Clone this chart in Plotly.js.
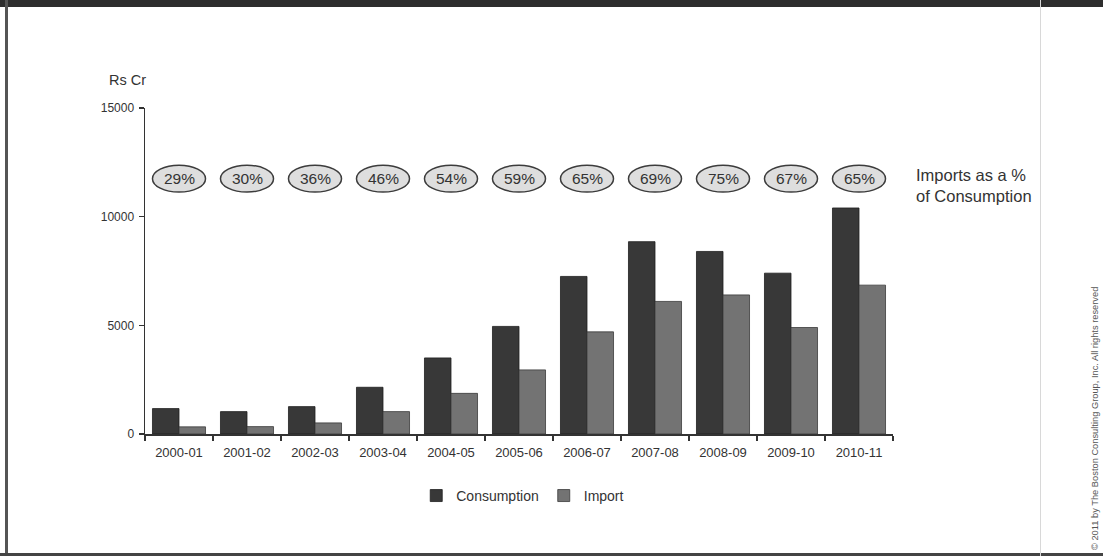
<!DOCTYPE html>
<html>
<head>
<meta charset="utf-8">
<script src="https://cdn.plot.ly/plotly-3.0.1.min.js"></script>
<style>
  html, body { margin: 0; padding: 0; background: #fff; }
  #wrap { position: relative; width: 1103px; height: 556px; overflow: hidden; }
  #chart { position: absolute; left: 0; top: 0; width: 1103px; height: 556px; }
  .frame-top { position: absolute; left: 0; top: 0; width: 1103px; height: 7px; background: #2e2e2e; }
  .frame-left { position: absolute; left: 5px; top: 0; width: 3px; height: 556px; background: #555; }
  .frame-bottom { position: absolute; left: 0; top: 553px; width: 1103px; height: 3px; background: #444; }
  .frame-right { position: absolute; left: 1040px; top: 0; width: 1px; height: 556px; background: #d8d8d8; }
</style>
</head>
<body>
<div id="wrap">
  <div id="chart"></div>
  <div class="frame-top"></div>
  <div class="frame-left"></div>
  <div class="frame-bottom"></div>
  <div class="frame-right"></div>
</div>
<script>
// ---- Data ----
const years = ["2000-01","2001-02","2002-03","2003-04","2004-05","2005-06","2006-07","2007-08","2008-09","2009-10","2010-11"];
const consumption = [1170, 1030, 1260, 2150, 3500, 4950, 7250, 8850, 8400, 7400, 10400];
const imports = [330, 340, 510, 1030, 1870, 2950, 4700, 6100, 6400, 4900, 6850];
const importShareLabels = ["29%","30%","36%","46%","54%","59%","65%","69%","75%","67%","65%"];
const yTicks = [0, 5000, 10000, 15000];

const FONT = "Liberation Sans, Arial, Helvetica, sans-serif";
const ovalY = 11750;     // vertical level of the percentage ovals (data units)
const ovalHalfH = 620;   // half-height of the ovals (data units)
const ovalHalfW = 0.39;  // half-width in category units

const traces = [
  {
    type: "bar", name: "Consumption", x: years, y: consumption,
    marker: { color: "#383838", line: { color: "#1e1e1e", width: 0.8 } },
    hoverinfo: "skip"
  },
  {
    type: "bar", name: "Import", x: years, y: imports,
    marker: { color: "#737373", line: { color: "#3a3a3a", width: 0.8 } },
    hoverinfo: "skip"
  }
];

const shapes = [];
const annotations = [];
years.forEach((yr, i) => {
  shapes.push({
    type: "circle", xref: "x", yref: "y",
    x0: i - ovalHalfW, x1: i + ovalHalfW,
    y0: ovalY - ovalHalfH, y1: ovalY + ovalHalfH,
    fillcolor: "#dedede", line: { color: "#3c3c3c", width: 1.5 }, layer: "above"
  });
  annotations.push({
    xref: "x", yref: "y", x: i, y: ovalY, text: importShareLabels[i],
    showarrow: false, font: { family: FONT, size: 15.5, color: "#333" }
  });
});

annotations.push({
  xref: "paper", yref: "paper", x: -0.051, y: 1.085, xanchor: "left", yanchor: "middle",
  text: "Rs Cr", showarrow: false, font: { family: FONT, size: 14.5, color: "#333" }
});
annotations.push({
  xref: "paper", yref: "paper", x: 1.028, y: 0.762, xanchor: "left", yanchor: "middle",
  align: "left", text: "Imports as a %<br>of Consumption", showarrow: false,
  font: { family: FONT, size: 16.5, color: "#333" }
});
annotations.push({
  xref: "paper", yref: "paper", x: 1.27, y: 0.049, xanchor: "center", yanchor: "middle",
  textangle: -90, text: "© 2011 by The Boston Consulting Group, Inc. All rights reserved",
  showarrow: false, font: { family: FONT, size: 9.3, color: "#555" }
});

const layout = {
  width: 1103, height: 556,
  margin: { l: 145, r: 210, t: 108, b: 122 },
  paper_bgcolor: "#ffffff", plot_bgcolor: "#ffffff",
  font: { family: FONT, size: 11, color: "#333" },
  barmode: "group", bargap: 0.22, bargroupgap: 0,
  showlegend: true,
  legend: {
    orientation: "h", x: 0.505, xanchor: "center", y: -0.19, yanchor: "middle",
    font: { family: FONT, size: 14, color: "#333" }, traceorder: "normal"
  },
  xaxis: {
    type: "category", range: [-0.5, 10.5],
    showline: true, linecolor: "#333", linewidth: 1.5,
    ticks: "outside", tickson: "boundaries", ticklen: 5, tickcolor: "#333", tickwidth: 1.2,
    ticklabelstandoff: 6,
    showgrid: false, zeroline: false,
    tickfont: { family: FONT, size: 13, color: "#333" }
  },
  yaxis: {
    range: [0, 15000], tickvals: yTicks, tickformat: "d",
    showline: true, linecolor: "#333", linewidth: 1.5,
    ticks: "outside", ticklen: 5, tickcolor: "#333", tickwidth: 1.2,
    ticklabelstandoff: 2,
    showgrid: false, zeroline: false,
    tickfont: { family: FONT, size: 12, color: "#333" }
  },
  shapes: shapes,
  annotations: annotations
};

Plotly.newPlot("chart", traces, layout, { displayModeBar: false, staticPlot: true });
</script>
</body>
</html>
